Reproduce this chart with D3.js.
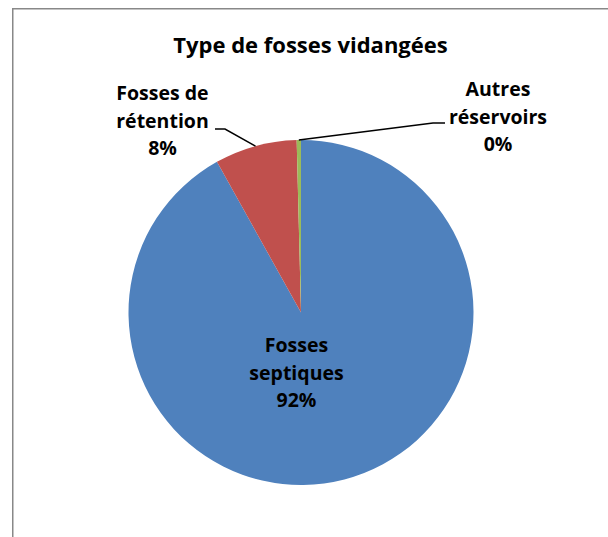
<!DOCTYPE html>
<html>
<head>
<meta charset="utf-8">
<script src="https://cdn.jsdelivr.net/npm/d3@7"></script>
<style>
  html, body { margin: 0; padding: 0; background: #fff; }
  svg { display: block; }
  text { font-family: "Open Sans", Lato, sans-serif; font-weight: bold; fill: #000; }
</style>
</head>
<body>
<svg id="chart" width="608" height="537"></svg>
<script>
const title = "Type de fosses vidangées";
const categories = ["Fosses septiques", "Fosses de rétention", "Autres réservoirs"];
const labelLines = [["Fosses", "septiques"], ["Fosses de", "rétention"], ["Autres", "réservoirs"]];
const values = [91.9, 7.7, 0.4];
const percentLabels = ["92%", "8%", "0%"];
const colors = ["#4F81BD", "#C0504D", "#9BBB59"];

const svg = d3.select("#chart");
const W = 608, H = 537;
const cx = 301, cy = 312.5, R = 172.5;

svg.append("rect").attr("x", 12.75).attr("y", 8.75).attr("width", W).attr("height", H)
  .attr("fill", "#fff").attr("stroke", "#888").attr("stroke-width", 1.5);

svg.append("text").attr("x", 310.5).attr("y", 52.5).attr("text-anchor", "middle")
  .style("font-size", "22px").text(title);

const pie = d3.pie().sort(null).value(d => d)(values);
const arc = d3.arc().innerRadius(0).outerRadius(R);
const g = svg.append("g").attr("transform", `translate(${cx},${cy})`);
g.selectAll("path").data(pie).join("path").attr("d", arc).attr("fill", (d, i) => colors[i]);

// label placement (layout, not data)
const labelPos = [
  { x: 296.5, y: 352, inside: true },
  { x: 162.5, y: 100, elbow: [225, 129], end: [215, 129] },
  { x: 498, y: 96, elbow: [433, 123], end: [445, 123] }
];
const lh = 27.5;

pie.forEach((d, i) => {
  const p = labelPos[i];
  if (!p.inside) {
    const a = (d.startAngle + d.endAngle) / 2;
    const sx = cx + R * Math.sin(a), sy = cy - R * Math.cos(a);
    svg.append("polyline")
      .attr("points", [[sx, sy], p.elbow, p.end].map(q => q.join(",")).join(" "))
      .attr("fill", "none").attr("stroke", "#000").attr("stroke-width", 1.5);
  }
  const lines = labelLines[i].concat([percentLabels[i]]);
  const t = svg.append("text").attr("text-anchor", "middle").style("font-size", "19.5px");
  lines.forEach((s, k) => {
    t.append("tspan").attr("x", p.x).attr("y", p.y + k * lh).text(s);
  });
});
</script>
</body>
</html>
